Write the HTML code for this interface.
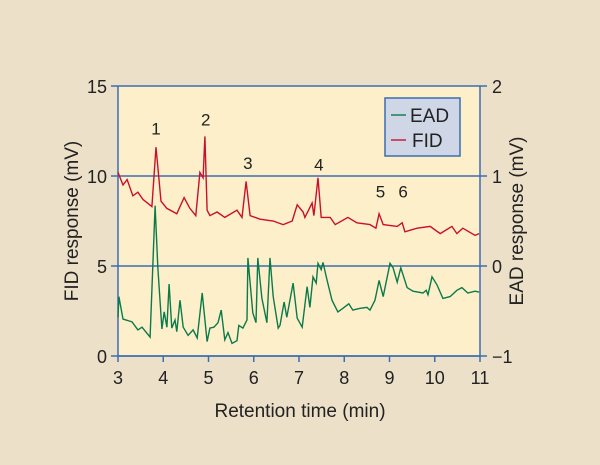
<!DOCTYPE html>
<html><head><meta charset="utf-8"><style>
body{margin:0;background:#ede0c9;}
svg{display:block;font-family:"Liberation Sans",sans-serif;}
</style></head><body>
<svg width="600" height="465" viewBox="0 0 600 465">
<rect x="0" y="0" width="600" height="465" fill="#ede0c9"/>
<rect x="118" y="86" width="362" height="270" fill="#fdefc9"/>
<g id="grid"></g>
<g id="axes"></g>
<path id="fid" fill="none" stroke="#c8102e" stroke-width="1.4"/>
<path id="ead" fill="none" stroke="#0b7a4a" stroke-width="1.4"/>
<g id="peaks" font-size="17" fill="#222" text-anchor="middle"></g>
<g>
<rect x="385" y="98" width="75" height="58" fill="#cfd6e6" stroke="#3a6fb0" stroke-width="1.5"/>
<line x1="391" y1="115" x2="406" y2="115" stroke="#0b7a4a" stroke-width="1.4"/>
<text x="410" y="122" font-size="19" fill="#222">EAD</text>
<line x1="391" y1="140" x2="406" y2="140" stroke="#c8102e" stroke-width="1.4"/>
<text x="412" y="147" font-size="19" fill="#222">FID</text>
</g>
<text x="300" y="417" font-size="19" fill="#222" text-anchor="middle">Retention time (min)</text>
<text transform="translate(78,221) rotate(-90)" font-size="19" fill="#222" text-anchor="middle">FID response (mV)</text>
<text transform="translate(523,221) rotate(-90)" font-size="19" fill="#222" text-anchor="middle">EAD response (mV)</text>
</svg>
<script>
const xTicks=[3,4,5,6,7,8,9,10,11];
const fidTicks=[0,5,10,15];
const eadTicks=[-1,0,1,2];
const fidT=[3.0,3.11,3.2,3.33,3.44,3.55,3.75,3.84,3.95,4.08,4.3,4.37,4.46,4.59,4.72,4.81,4.88,4.92,4.97,5.03,5.19,5.36,5.63,5.74,5.83,5.92,6.14,6.43,6.65,6.85,6.96,7.09,7.13,7.29,7.33,7.42,7.49,7.69,7.8,8.08,8.28,8.57,8.7,8.77,8.86,9.17,9.28,9.34,9.61,9.9,10.12,10.38,10.49,10.62,10.89,10.98];
const fidV=[10.2,9.5,9.8,8.9,9.1,8.7,8.3,11.6,8.6,8.2,7.9,8.3,8.8,8.2,7.8,10.2,9.9,12.2,8.1,7.8,8.0,7.7,8.1,7.7,9.7,7.8,7.6,7.5,7.3,7.5,8.4,8.0,7.7,8.5,7.8,9.9,7.7,7.7,7.3,7.7,7.4,7.3,7.1,7.9,7.3,7.2,7.4,6.9,7.1,7.2,6.8,7.2,6.8,7.1,6.7,6.8];
const eadT=[3.0,3.02,3.11,3.31,3.44,3.53,3.71,3.82,3.88,3.97,4.02,4.08,4.13,4.19,4.26,4.3,4.37,4.44,4.55,4.66,4.75,4.86,4.97,5.03,5.12,5.21,5.28,5.36,5.43,5.52,5.63,5.67,5.76,5.85,5.87,5.98,6.05,6.09,6.18,6.29,6.36,6.43,6.54,6.58,6.67,6.73,6.87,6.96,7.07,7.18,7.24,7.31,7.38,7.42,7.49,7.53,7.62,7.73,7.86,7.97,8.1,8.19,8.35,8.5,8.57,8.68,8.77,8.86,9.01,9.08,9.17,9.25,9.39,9.52,9.74,9.81,9.85,9.94,10.05,10.18,10.34,10.49,10.6,10.73,10.89,10.98];
const eadV=[-0.57,-0.34,-0.59,-0.62,-0.71,-0.68,-0.79,0.67,-0.01,-0.70,-0.51,-0.68,-0.20,-0.69,-0.60,-0.73,-0.38,-0.68,-0.77,-0.71,-0.80,-0.30,-0.84,-0.69,-0.68,-0.63,-0.49,-0.82,-0.74,-0.86,-0.83,-0.66,-0.69,-0.60,0.09,-0.52,-0.63,0.09,-0.36,-0.63,0.09,-0.34,-0.69,-0.66,-0.40,-0.57,-0.19,-0.58,-0.68,-0.23,-0.46,-0.12,-0.19,0.03,-0.04,0.04,-0.16,-0.38,-0.51,-0.47,-0.42,-0.49,-0.47,-0.46,-0.49,-0.38,-0.16,-0.34,0.03,-0.02,-0.18,-0.02,-0.24,-0.28,-0.30,-0.27,-0.32,-0.12,-0.21,-0.36,-0.34,-0.27,-0.24,-0.30,-0.28,-0.29];
const peakLabels=["1","2","3","4","5","6"];
const peakT=[3.84,4.94,5.87,7.44,8.8,9.3];
const peakV=[12.3,12.8,10.4,10.3,8.8,8.8];
const X=t=>118+(t-3)*362/8;
const YF=v=>356-v*18;
const YE=v=>266-v*90;
const NS="http://www.w3.org/2000/svg";
function mk(tag,attrs,parent){const e=document.createElementNS(NS,tag);for(const k in attrs)e.setAttribute(k,attrs[k]);parent.appendChild(e);return e;}
const grid=document.getElementById('grid'),axes=document.getElementById('axes');
fidTicks.forEach(v=>{
  const l=mk('line',{x1:111,x2:480,y1:YF(v),y2:YF(v),stroke:'#3a6fb0','stroke-width':1.5},grid);
  
  
  const t=mk('text',{x:107,y:YF(v)+7,'font-size':18,fill:'#222','text-anchor':'end'},axes);
  t.textContent=v;
  
  
});
eadTicks.forEach(v=>{
  mk('line',{x1:480,x2:487,y1:YE(v),y2:YE(v),stroke:'#3a6fb0','stroke-width':1.5},axes);
  const t=mk('text',{x:492,y:YE(v)+7,'font-size':18,fill:'#222','text-anchor':'start'},axes);
  t.textContent=v===-1?'\u22121':v;
  
  
});
xTicks.forEach(v=>{
  mk('line',{x1:X(v),x2:X(v),y1:356,y2:362,stroke:'#3a6fb0','stroke-width':1.5},axes);
  const t=mk('text',{x:X(v),y:384,'font-size':18,fill:'#222','text-anchor':'middle'},axes);
  t.textContent=v;
  
  
});
const ax=mk('path',{d:'M118 86V356H480V86',fill:'none',stroke:'#3a6fb0','stroke-width':1.5},axes);


document.getElementById('fid').setAttribute('d',fidT.map((t,i)=>(i?'L':'M')+X(t).toFixed(1)+' '+YF(fidV[i]).toFixed(1)).join(''));
document.getElementById('ead').setAttribute('d',eadT.map((t,i)=>(i?'L':'M')+X(t).toFixed(1)+' '+YE(eadV[i]).toFixed(1)).join(''));
const pk=document.getElementById('peaks');
peakLabels.forEach((s,i)=>{
  const t=mk('text',{x:X(peakT[i]),y:YF(peakV[i])},pk);
  t.textContent=s;
  
  
});
</script>
</body></html>
